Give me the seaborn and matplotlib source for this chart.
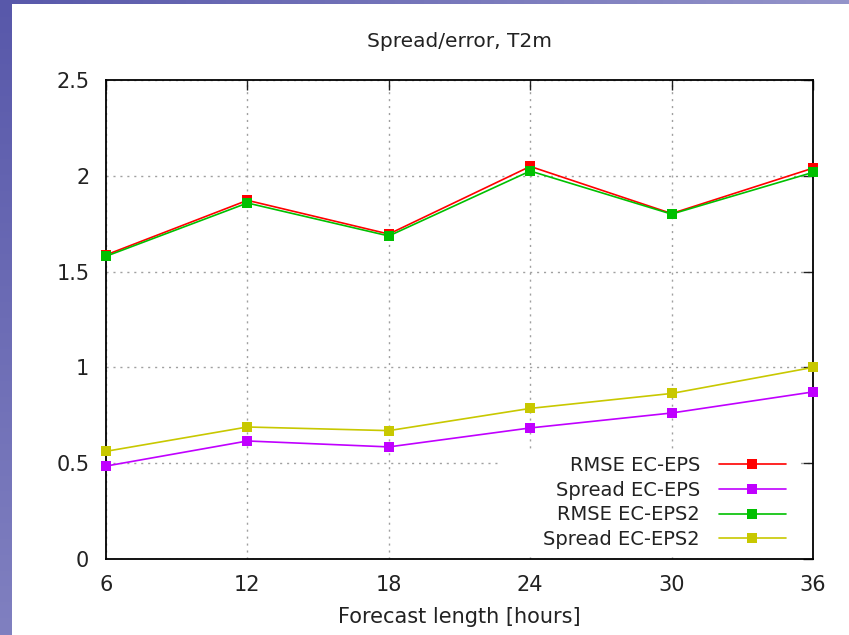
import numpy as np
import pandas as pd
import matplotlib
matplotlib.use("Agg")
import matplotlib.pyplot as plt
import seaborn as sns
from matplotlib.colors import LinearSegmentedColormap
from matplotlib.patches import Rectangle

hours = [6, 12, 18, 24, 30, 36]
rmse_ec_eps = [1.587, 1.872, 1.696, 2.049, 1.803, 2.040]
spread_ec_eps = [0.485, 0.616, 0.585, 0.684, 0.762, 0.872]
rmse_ec_eps2 = [1.580, 1.858, 1.686, 2.025, 1.800, 2.018]
spread_ec_eps2 = [0.562, 0.689, 0.670, 0.786, 0.864, 1.000]

series_names = ["RMSE EC-EPS", "Spread EC-EPS", "RMSE EC-EPS2", "Spread EC-EPS2"]
series_values = [rmse_ec_eps, spread_ec_eps, rmse_ec_eps2, spread_ec_eps2]
colors = ["#ff0000", "#c000ff", "#00c000", "#c8c800"]

yticks = [0, 0.5, 1, 1.5, 2, 2.5]
ytick_labels = ["0", "0.5", "1", "1.5", "2", "2.5"]

sns.set_style("white")
plt.rcParams['font.family'] = ['DejaVu Sans']

W, H = 849, 635
fig = plt.figure(figsize=(W / 100, H / 100), dpi=100, facecolor="white")

# purple slide edges
grad = np.linspace(0, 1, 256).reshape(-1, 1)
left_strip = fig.add_axes([0, 0, 12 / W, 1])
cm_left = LinearSegmentedColormap.from_list("l", ["#8080c0", "#5858aa"])
left_strip.imshow(grad, aspect="auto", cmap=cm_left, origin="lower", extent=[0, 1, 0, 1])
left_strip.axis("off")
top_strip = fig.add_axes([0, 1 - 4 / H, 1, 4 / H])
cm_top = LinearSegmentedColormap.from_list("t", ["#5858aa", "#9494ca"])
top_strip.imshow(grad.T, aspect="auto", cmap=cm_top, extent=[0, 1, 0, 1])
top_strip.axis("off")

ax = fig.add_axes([106 / W, 1 - 559 / H, (813 - 106) / W, (559 - 80) / H])

rows = []
for name, vals in zip(series_names, series_values):
    for h, v in zip(hours, vals):
        rows.append({"hours": h, "value": v, "series": name})
df = pd.DataFrame(rows)

for name, c in zip(series_names, colors):
    sub = df[df["series"] == name]
    sns.lineplot(data=sub, x="hours", y="value", ax=ax, color=c, marker="s",
                 markersize=7, markeredgewidth=0, linewidth=1.2, label=name,
                 clip_on=False, zorder=3)

ax.set_xlim(6, 36)
ax.set_ylim(0, 2.5)
ax.set_xticks(hours)
ax.set_xticklabels([str(h) for h in hours])
ax.set_yticks(yticks)
ax.set_yticklabels(ytick_labels)
ax.set_axisbelow(True)
ax.grid(True, color="#a0a0a0", linestyle=(0, (1.5, 3.5)), linewidth=1.0, zorder=0.5)
ax.tick_params(axis="both", direction="in", length=7, width=1, color="#202020",
               top=True, right=True, labelsize=15, labelcolor="#222222")
ax.tick_params(axis="y", pad=12)
ax.tick_params(axis="x", pad=11.5)
for s in ax.spines.values():
    s.set_visible(True)
    s.set_color("black")
    s.set_linewidth(1.3)

ax.set_xlabel("Forecast length [hours]", fontsize=15, color="#222222", labelpad=9)
ax.set_ylabel("")
ax.set_title("Spread/error, T2m", fontsize=14.5, color="#222222", pad=24)

# white key area hiding the grid (as in gnuplot's key box)
ax.add_patch(Rectangle((0.557, 0.006), 0.42, 0.222, transform=ax.transAxes,
                       facecolor="white", edgecolor="none", zorder=1))

leg = ax.legend(loc="lower right", bbox_to_anchor=(0.979, -0.006), markerfirst=False,
                frameon=False, fontsize=14, handlelength=3.4, labelspacing=0.3,
                borderpad=0.3, handletextpad=1.0, borderaxespad=0.35)
leg.set_zorder(5)
for t in leg.get_texts():
    t.set_color("#222222")

fig.savefig("out.png", dpi=100, facecolor="white")
